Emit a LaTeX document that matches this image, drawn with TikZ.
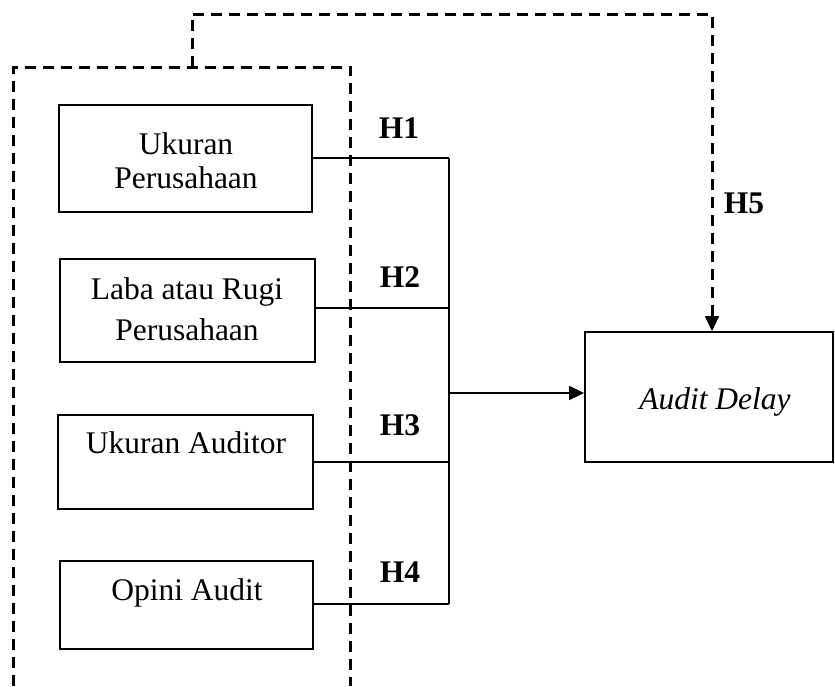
\documentclass[tikz,border=0pt]{standalone}
\usepackage{fontspec}
\setmainfont{Liberation Serif}
\usetikzlibrary{arrows.meta}
\begin{document}
\begin{tikzpicture}[x=1pt,y=-1pt,
  box/.style={draw,line width=1.8pt,minimum width=#1,inner sep=0pt},
  txt/.style={font=\fontsize{31.5}{34}\selectfont,align=center,inner sep=0pt},
  hlab/.style={font=\fontsize{31.5}{34}\selectfont\bfseries,inner sep=0pt},
  conn/.style={line width=1.7pt},
  dashline/.style={line width=3pt,dash pattern=on 11pt off 7pt},
  tip/.style={-{Triangle[length=15pt,width=14pt]}}]
\useasboundingbox (0,0) rectangle (835,686);
% boxes
\node[box=253pt,minimum height=107pt] (b1) at (185.5,158.5) {};
\node[box=255pt,minimum height=103pt] (b2) at (187.5,310.5) {};
\node[box=255pt,minimum height=94pt] (b3) at (185.5,462) {};
\node[box=253pt,minimum height=88pt] (b4) at (186.5,605) {};
\node[box=248pt,minimum height=130pt] (ad) at (709,397) {};
% texts
\node[txt,anchor=base] (t1) at (186,154) {Ukuran};
\node[txt,anchor=base] (t1b) at (186,188) {Perusahaan};
\node[txt,anchor=base] (t2) at (187,299) {Laba atau Rugi};
\node[txt,anchor=base] (t2b) at (187,340) {Perusahaan};
\node[txt,anchor=base] (t3) at (186,453) {Ukuran Auditor};
\node[txt,anchor=base] (t4) at (187,600) {Opini Audit};
\node[txt,font=\fontsize{31.5}{34}\selectfont\itshape,anchor=base] (t5) at (715,409) {Audit Delay};
% hypothesis labels
\node[hlab,anchor=base] (h1) at (399,138) {H1};
\node[hlab,anchor=base] (h2) at (400,287) {H2};
\node[hlab,anchor=base] (h3) at (400,435) {H3};
\node[hlab,anchor=base] (h4) at (400,582) {H4};
\node[hlab,anchor=base] (h5) at (744,213) {H5};
% junction coordinates
\coordinate (j1) at (449,158);
\coordinate (j2) at (449,308);
\coordinate (j3) at (449,462);
\coordinate (j4) at (449,604);
\coordinate (jm) at (449,393);
% connectors
\draw[conn] (b1.east |- j1) -- (j1);
\draw[conn] (b2.east |- j2) -- (j2);
\draw[conn] (b3.east |- j3) -- (j3);
\draw[conn] (b4.east |- j4) -- (j4);
\draw[conn] (j1) -- (j4);
\draw[conn,tip] (jm) -- (ad.west |- jm);
% dashed outer frame
\coordinate (d1) at (13.5,686);
\coordinate (d2) at (13.5,67);
\coordinate (d3) at (350.5,67);
\coordinate (d4) at (350.5,686);
\draw[dashline] (d1) -- (d2) -- (d3) -- (d4);
\coordinate (e1) at (192,67);
\coordinate (e2) at (192,14);
\coordinate (e3) at (712,14);
\draw[dashline] (e1) -- (e2) -- (e3) -- (712,318);
\draw[tip,line width=1.7pt] (712,312) -- (e3 |- ad.north);
\end{tikzpicture}
\end{document}
